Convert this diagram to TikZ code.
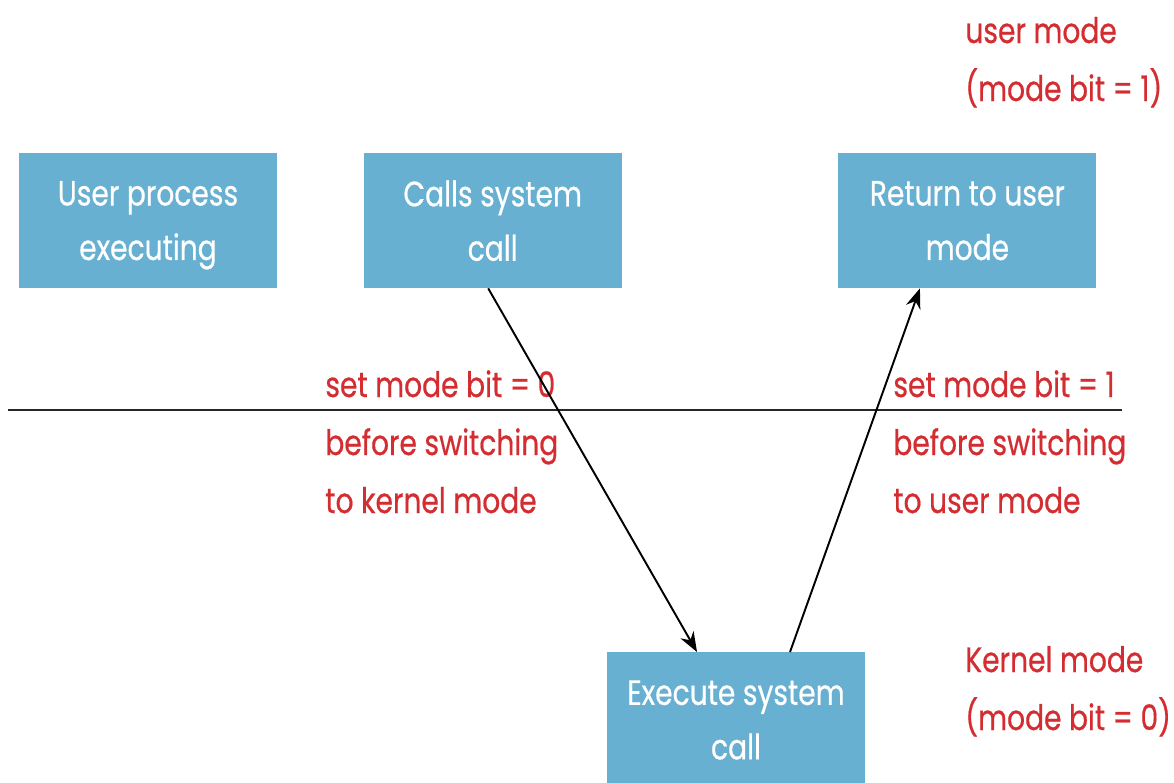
\documentclass[tikz,border=0pt]{standalone}
\usepackage{fontspec}
\setmainfont[FakeStretch=0.8, FakeBold=0.5]{Poppins}
\usetikzlibrary{arrows.meta}
\usetikzlibrary{positioning}
\definecolor{boxblue}{RGB}{103,176,209}
\definecolor{notered}{RGB}{211,45,50}

\begin{document}
\begin{tikzpicture}[
            node distance=1.72cm and 1.72cm,
            modebox/.style={rectangle, fill=boxblue, minimum height=2.7cm, minimum width=5.16cm, inner sep=0pt, align=center, text depth=0pt, text=white, font=\fontsize{20}{31}\selectfont},
            note/.style={inner sep=0pt, align=left, text=notered, font=\fontsize{20}{33}\selectfont},
            arrow/.style={-{Stealth[length=4mm, width=3mm]}, line width=1.1pt},
            split_line/.style={line width=1.1pt, black!85}
        ]
        \useasboundingbox (0,0) rectangle (23.48,-15.64);

        % Boxes (user side, top row)
        \node[modebox] (user_proc) at (2.96,-4.41) {User process\\executing};
        \node[modebox, right=of user_proc] (calls_sys) {Calls system\\call};
        \node[modebox, right=4.32cm of calls_sys] (return_user) {Return to user\\mode};

        % Box (kernel side)
        \node[modebox, anchor=north] (exec_sys) at (14.72,-13.04) {Execute system\\call};

        % Line between user and kernel mode
        \coordinate (split_left) at (0.16,-8.2);
        \coordinate (split_right) at (22.44,-8.2);
        \draw[split_line] (split_left) -- (split_right);

        % Mode labels (anchored at the last line)
        \node[note, anchor=base west] (user_label) at (19.3,-2.02) {user mode\\(mode bit = 1)};
        \node[note, anchor=base west] (kernel_label) at (19.3,-14.6) {Kernel mode\\(mode bit = 0)};

        % Switch notes
        \node[note, anchor=base west] (to_kernel) at (6.5,-10.26) {set mode bit = 0\\before switching\\to kernel mode};
        \node[note, anchor=base west] (to_user) at (17.86,-10.26) {set mode bit = 1\\before switching\\to user mode};

        % Arrows
        \draw[arrow] ([xshift=-0.09cm]calls_sys.south) -- ([xshift=-0.78cm]exec_sys.north);
        \draw[arrow] ([xshift=1.08cm]exec_sys.north) -- ([xshift=-0.95cm]return_user.south);

\end{tikzpicture}
\end{document}
